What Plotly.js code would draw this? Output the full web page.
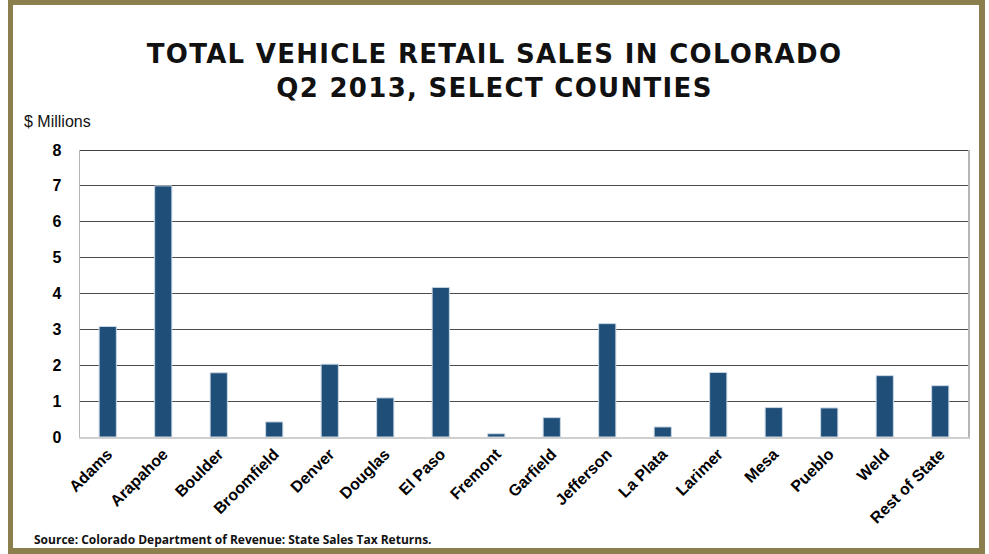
<!DOCTYPE html>
<html>
<head>
<meta charset="utf-8">
<script src="https://cdn.plot.ly/plotly-3.0.1.min.js"></script>
<style>
  html, body { margin: 0; padding: 0; background: #fff; }
  #wrap { position: relative; width: 989px; height: 554px; overflow: hidden; }
  #frame { position: absolute; left: 8px; top: 0px; width: 966px; height: 543px;
           border-style: solid; border-color: #8C7F4E; border-width: 5px 6px 6px 5px; pointer-events: none; z-index: 5; }
  #chart { position: absolute; left: 0; top: 0; width: 989px; height: 554px; }
  .gtitle { letter-spacing: 1.3px; }
</style>
</head>
<body>
<div id="wrap">
  <div id="chart"></div>
  <div id="frame"></div>
</div>
<script>
const counties = ["Adams", "Arapahoe", "Boulder", "Broomfield", "Denver", "Douglas", "El Paso", "Fremont",
                  "Garfield", "Jefferson", "La Plata", "Larimer", "Mesa", "Pueblo", "Weld", "Rest of State"];
const salesMillions = [3.08, 7.0, 1.79, 0.42, 2.03, 1.09, 4.17, 0.09,
                       0.54, 3.16, 0.28, 1.80, 0.82, 0.81, 1.71, 1.43];
const yTicks = [0, 1, 2, 3, 4, 5, 6, 7, 8];

const trace = {
  type: "bar",
  x: counties,
  y: salesMillions,
  marker: { color: "#1F4E79", line: { color: "#C9D6E3", width: 1 } },
  hoverinfo: "x+y"
};

const layout = {
  width: 989, height: 554,
  margin: { l: 80, r: 21, t: 150, b: 117 },
  paper_bgcolor: "rgba(0,0,0,0)",
  plot_bgcolor: "#fff",
  showlegend: false,
  bargap: 0.69,
  title: {
    text: "TOTAL VEHICLE RETAIL SALES IN COLORADO<br>Q2 2013, SELECT COUNTIES",
    font: { family: "DejaVu Sans", size: 26, color: "#111", weight: 700 },
    x: 0.5, xanchor: "center", xref: "container",
    y: 1 - 63 / 554, yref: "container", yanchor: "middle"
  },
  xaxis: {
    type: "category",
    tickangle: -45,
    tickfont: { family: "Liberation Sans", size: 16, color: "#000", weight: 700 },
    showline: true, linecolor: "#cfcfcf", linewidth: 1.5,
    showgrid: false, ticks: "", automargin: false
  },
  yaxis: {
    range: [0, 8],
    tickvals: yTicks,
    ticktext: yTicks.map(String),
    tickfont: { family: "Liberation Sans", size: 16, color: "#000", weight: 700 },
    showgrid: true, gridcolor: "#4a4a4a", gridwidth: 1.2,
    zeroline: false,
    showline: true, linecolor: "#b5b5b5", linewidth: 1.5, mirror: true,
    ticks: "outside", ticklen: 0, ticklabelstandoff: 14,
    automargin: false
  },
  shapes: [
    { type: "line", xref: "paper", yref: "y", x0: 0, x1: 1, y0: 8, y1: 8,
      line: { color: "#000", width: 1.5 } }
  ],
  annotations: [
    { text: "$ Millions", xref: "paper", yref: "paper", x: -0.065, y: 1.1,
      xanchor: "left", yanchor: "middle", showarrow: false,
      font: { family: "Liberation Sans", size: 16, color: "#111" } },
    { text: "Source: Colorado Department of Revenue: State Sales Tax Returns.", xref: "paper", yref: "paper",
      x: -0.054, y: -0.358, xanchor: "left", yanchor: "middle", showarrow: false,
      font: { family: "Open Sans", size: 12, color: "#111", weight: 700 } }
  ]
};

Plotly.newPlot("chart", [trace], layout, { displayModeBar: false, staticPlot: true });
</script>
</body>
</html>
